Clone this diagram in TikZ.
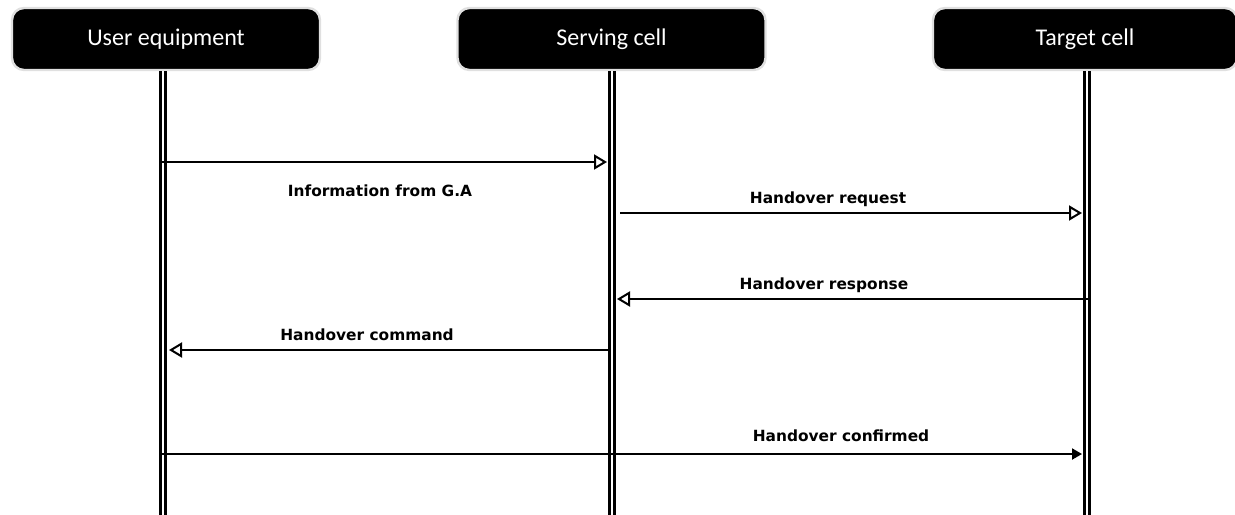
\documentclass[tikz,border=0pt]{standalone}
\usepackage{fontspec}
\setmainfont{Carlito}
\newfontfamily\lblfont{DejaVu Sans}
\usetikzlibrary{arrows.meta}
\begin{document}
\begin{tikzpicture}[x=0.5pt,y=-0.5pt,
  actor/.style={fill=black, draw=black!12, line width=1.2pt, rounded corners=6pt,
    text=white, font=\fontsize{12}{14}\selectfont, minimum height=31pt, inner sep=0pt},
  lifeline/.style={draw=black, line width=1.4pt, double=white, double distance=1pt},
  msg/.style={draw=black, line width=1pt},
  openhead/.style={-{Triangle[open, length=6.5pt, width=7.5pt, line width=1pt]}},
  fillhead/.style={-{Triangle[length=5pt, width=5.5pt]}},
  lbl/.style={font=\lblfont\bfseries\fontsize{7.7}{9}\selectfont, inner sep=0pt}]
\useasboundingbox (0,0) rectangle (1235,514);
% actors
\node[actor, minimum width=154pt] (ue) at (166,39) {User equipment};
\node[actor, minimum width=154pt] (sc) at (611.5,39) {Serving cell};
\node[actor, minimum width=152pt] (tc) at (1085,39) {Target cell};
% lifeline ends
\coordinate (ueT) at (163,71);
\coordinate (ueB) at (163,516);
\coordinate (scT) at (612,71);
\coordinate (scB) at (612,516);
\coordinate (tcT) at (1087,71);
\coordinate (tcB) at (1087,516);
\draw[lifeline] (ueT) -- (ueB);
\draw[lifeline] (scT) -- (scB);
\draw[lifeline] (tcT) -- (tcB);
% message endpoints
\coordinate (m1s) at (160,162); \coordinate (m1e) at (607,162);
\coordinate (m2s) at (620,213); \coordinate (m2e) at (1082,213);
\coordinate (m3s) at (1090,299); \coordinate (m3e) at (617,299);
\coordinate (m4s) at (608,350); \coordinate (m4e) at (169,350);
\coordinate (m5s) at (160,454); \coordinate (m5e) at (1082,454);
\draw[msg, openhead] (m1s) -- (m1e);
\draw[msg, openhead] (m2s) -- (m2e);
\draw[msg, openhead] (m3s) -- (m3e);
\draw[msg, openhead] (m4s) -- (m4e);
\draw[msg, fillhead] (m5s) -- (m5e);
% labels
\node[lbl] (l1) at (380,191) {Information from G.A};
\node[lbl] (l2) at (828,199) {Handover request};
\node[lbl] (l3) at (824,285) {Handover response};
\node[lbl] (l4) at (367,335) {Handover command};
\node[lbl] (l5) at (841,436) {Handover confirmed};
\end{tikzpicture}
\end{document}
